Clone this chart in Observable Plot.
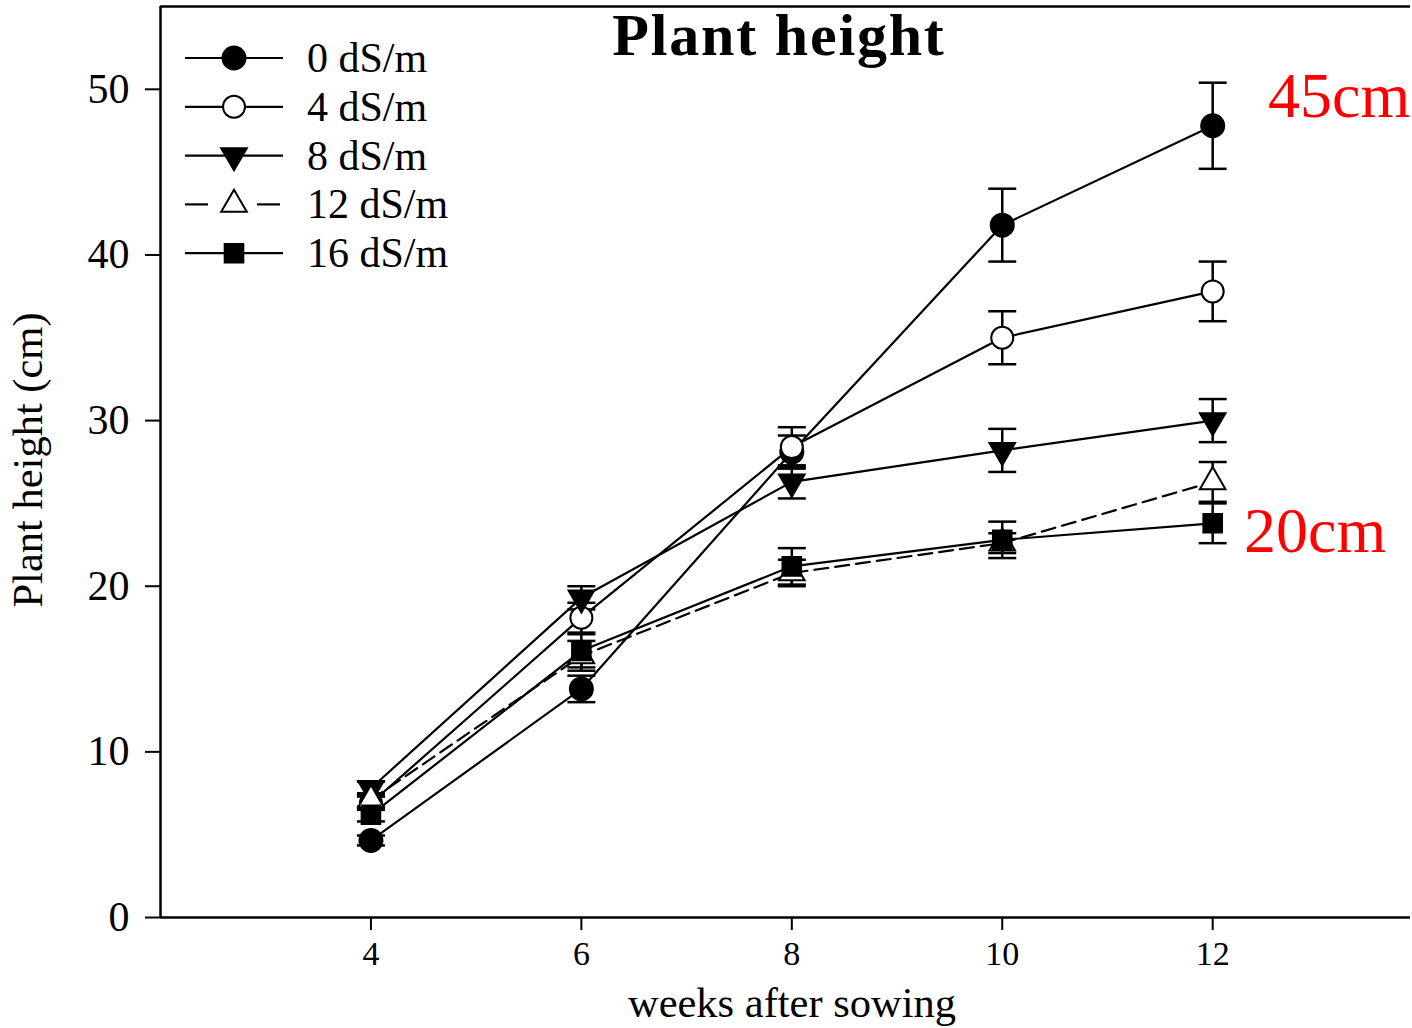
<!DOCTYPE html>
<html>
<head>
<meta charset="utf-8">
<script src="https://cdn.jsdelivr.net/npm/d3@7"></script>
<script src="https://cdn.jsdelivr.net/npm/@observablehq/plot@0.6"></script>
<style>
  html, body { margin: 0; padding: 0; background: #fff; }
  #wrap { position: relative; width: 1412px; height: 1028px; overflow: hidden; }
  #wrap svg { position: absolute; left: 0; top: 0; }
  #overlay { pointer-events: none; }
</style>
</head>
<body>
<div id="wrap"></div>
<script>
// ---- data ----
const weeks = [4, 6, 8, 10, 12];
const series = ["0 dS/m", "4 dS/m", "8 dS/m", "12 dS/m", "16 dS/m"];
const h0  = [4.65, 13.8, 28.1, 41.8, 47.8];
const e0  = [0.3, 0.8, 1.0, 2.2, 2.6];
const h4  = [6.9, 18.1, 28.4, 35.0, 37.8];
const e4  = [0.4, 0.9, 1.2, 1.6, 1.8];
const h8  = [7.8, 19.3, 26.3, 28.2, 30.0];
const e8  = [0.4, 0.7, 1.0, 1.3, 1.3];
const h12 = [7.1, 15.8, 20.8, 22.6, 26.3];
const e12 = [0.4, 0.9, 0.8, 0.6, 1.2];
const h16 = [6.2, 16.1, 21.2, 22.8, 23.8];
const e16 = [0.4, 1.0, 1.1, 1.1, 1.2];
const yTicks = [0, 10, 20, 30, 40, 50];
const xTicks = [4, 6, 8, 10, 12];
const titleText = "Plant height";
const xLabel = "weeks after sowing";
const yLabel = "Plant height (cm)";
const notes = ["45cm", "20cm"];

const H = [h0, h4, h8, h12, h16];
const E = [e0, e4, e8, e12, e16];
const rows = series.flatMap((s, j) => weeks.map((w, i) => ({series: s, week: w, h: H[j][i], e: E[j][i]})));

const cap = {draw(ctx, size) { const r = Math.sqrt(size / Math.PI); ctx.moveTo(-r, 0); ctx.lineTo(r, 0); }};

const style = [
  {fill: "black", stroke: "black", symbol: "circle", r: 11.5, rotate: 0},
  {fill: "white", stroke: "black", symbol: "circle", r: 11, rotate: 0},
  {fill: "black", stroke: "black", symbol: "triangle", r: 9.5, rotate: 180},
  {fill: "white", stroke: "black", symbol: "triangle", r: 9.5, rotate: 0},
  {fill: "black", stroke: "black", symbol: "square", r: 10.5, rotate: 0}
];
const dashed = "14,7";

const W = 1412, HT = 1028;
const font = "'Liberation Serif', 'Times New Roman', serif";

const plot = Plot.plot({
  width: W, height: HT,
  marginLeft: 160, marginRight: 2, marginTop: 6, marginBottom: 111,
  style: {fontFamily: font, color: "black", background: "white", overflow: "visible"},
  x: {domain: [2, 13.88], label: null},
  y: {domain: [0, 55], label: null},
  marks: [
    Plot.ruleX([2], {stroke: "black", strokeWidth: 2.5}),
    Plot.ruleY([0], {stroke: "black", strokeWidth: 2.5}),
    Plot.ruleY([55], {stroke: "black", strokeWidth: 2.5}),
    Plot.axisY({ticks: yTicks, tickSize: 15, tickPadding: 16, fontSize: 42, strokeWidth: 2, label: null}),
    Plot.axisX({ticks: xTicks, tickSize: 13, tickPadding: 10, fontSize: 34, strokeWidth: 2, label: null}),
    Plot.line(rows.filter(d => d.series !== "12 dS/m"), {x: "week", y: "h", z: "series", stroke: "black", strokeWidth: 2.2}),
    Plot.line(rows.filter(d => d.series === "12 dS/m"), {x: "week", y: "h", z: "series", stroke: "black", strokeWidth: 2.2, strokeDasharray: dashed}),
    Plot.ruleX(rows, {x: "week", y1: d => d.h - d.e, y2: d => d.h + d.e, stroke: "black", strokeWidth: 2.5}),
    Plot.dot(rows, {x: "week", y: d => d.h + d.e, symbol: cap, r: 14, fill: "none", stroke: "black", strokeWidth: 2.5}),
    Plot.dot(rows, {x: "week", y: d => d.h - d.e, symbol: cap, r: 14, fill: "none", stroke: "black", strokeWidth: 2.5}),
    ...series.map((s, j) => Plot.dot(rows.filter(d => d.series === s), {
      x: "week", y: "h", symbol: style[j].symbol, r: style[j].r, rotate: style[j].rotate,
      fill: style[j].fill, stroke: style[j].stroke, strokeWidth: 2
    }))
  ]
});
document.getElementById("wrap").appendChild(plot);

// ---- overlay: title, axis labels, legend, annotations ----
const svg = d3.select("#wrap").append("svg").attr("id", "overlay")
  .attr("width", W).attr("height", HT).style("font-family", font);

svg.append("text").attr("x", 779).attr("y", 55).attr("text-anchor", "middle")
  .attr("font-size", 60).attr("font-weight", "bold").attr("letter-spacing", 1.8).text(titleText);

svg.append("text").attr("x", 792).attr("y", 1017).attr("text-anchor", "middle")
  .attr("font-size", 42.5).text(xLabel);

svg.append("text").attr("transform", "translate(42,460) rotate(-90)").attr("text-anchor", "middle")
  .attr("font-size", 42.5).text(yLabel);

svg.append("text").attr("x", 1268).attr("y", 117).attr("font-size", 64).attr("fill", "#ff0000").text(notes[0]);
svg.append("text").attr("x", 1244).attr("y", 552).attr("font-size", 64).attr("fill", "#ff0000").text(notes[1]);

const symMap = {circle: d3.symbolCircle, triangle: d3.symbolTriangle, square: d3.symbolSquare};
series.forEach((s, j) => {
  const y = 58 + j * 48.8;
  const g = svg.append("g");
  if (s === "12 dS/m") {
    [[185, 208], [257, 280]].forEach(([a, b]) =>
      g.append("line").attr("x1", a).attr("x2", b).attr("y1", y).attr("y2", y)
        .attr("stroke", "black").attr("stroke-width", 2.2));
  } else {
    g.append("line").attr("x1", 185).attr("x2", 283).attr("y1", y).attr("y2", y)
      .attr("stroke", "black").attr("stroke-width", 2.2);
  }
  const st = style[j];
  g.append("path")
    .attr("d", d3.symbol(symMap[st.symbol], Math.PI * st.r * st.r)())
    .attr("transform", `translate(234,${y}) rotate(${st.rotate})`)
    .attr("fill", st.fill).attr("stroke", st.stroke).attr("stroke-width", 2);
  g.append("text").attr("x", 307).attr("y", y + 14).attr("font-size", 42).text(s);
});
</script>
</body>
</html>
